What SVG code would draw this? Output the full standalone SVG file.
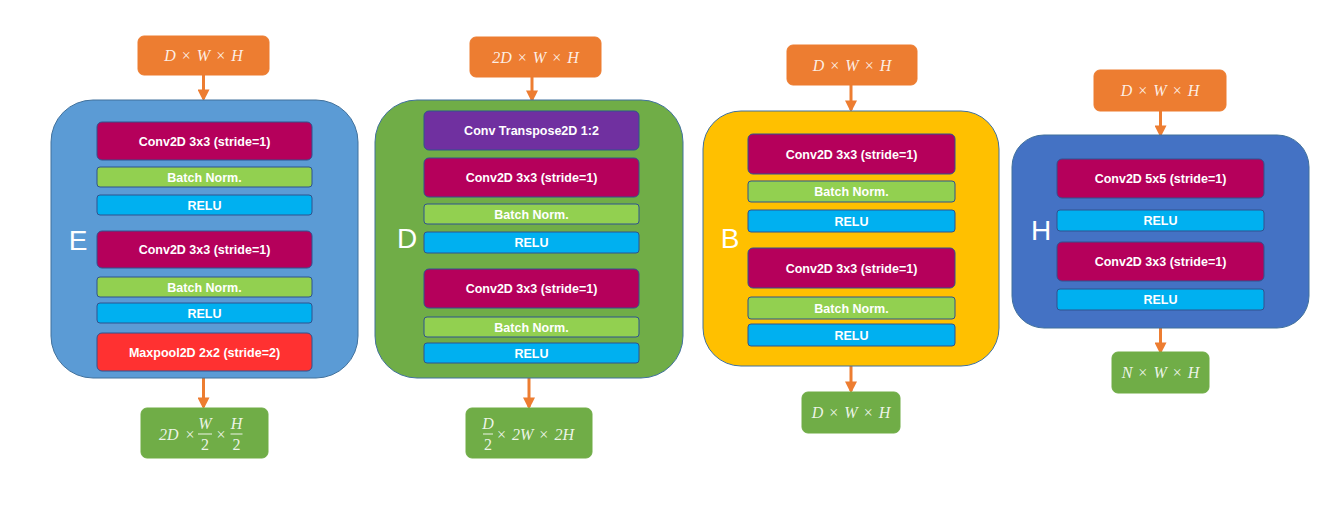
<svg xmlns="http://www.w3.org/2000/svg" width="1334" height="512" viewBox="0 0 1334 512">
<style>
.bg{fill:#ffffff}
.io-in{fill:#ED7D31;stroke:#ED7D31;stroke-width:1}
.io-out{fill:#70AD47;stroke:#70AD47;stroke-width:1}
.cont{stroke:#41719C;stroke-width:1}
.layer{stroke:#2F528F;stroke-width:1}
.conv{fill:#B5005B}
.bn{fill:#92D050}
.relu{fill:#00B0F0}
.pool{fill:#FF3131}
.tconv{fill:#7030A0}
.lt{font-family:"Liberation Sans",Arial,sans-serif;font-weight:bold;font-size:12.5px;fill:#ffffff;text-anchor:middle}
.big{font-family:"Liberation Sans",Arial,sans-serif;font-size:28px;fill:#ffffff;text-anchor:middle}
.m{font-family:"Liberation Serif","Times New Roman",serif;font-size:16px;fill:#ffffff;fill-opacity:0.88;font-style:italic;word-spacing:2px}
.up{font-style:normal}
.bar{stroke:#ffffff;stroke-opacity:0.88;stroke-width:1}
.conn{stroke:#ED7D31;stroke-width:3;fill:none}
.ah{fill:#ED7D31}
</style>
<defs>
<marker id="arr" viewBox="0 0 10 10" refX="8" refY="5" markerWidth="4" markerHeight="4" orient="auto" markerUnits="strokeWidth">
<path d="M0,0 L10,5 L0,10 z" class="ah"/>
</marker>
</defs>
<rect class="bg" x="0" y="0" width="1334" height="512"/>

<g id="connectors">
<line class="conn" x1="203.5" y1="75" x2="203.5" y2="99" marker-end="url(#arr)"/>
<line class="conn" x1="203.5" y1="378" x2="203.5" y2="407" marker-end="url(#arr)"/>
<line class="conn" x1="532" y1="77" x2="532" y2="100" marker-end="url(#arr)"/>
<line class="conn" x1="529" y1="378" x2="529" y2="407" marker-end="url(#arr)"/>
<line class="conn" x1="851" y1="85" x2="851" y2="110" marker-end="url(#arr)"/>
<line class="conn" x1="851" y1="366" x2="851" y2="391" marker-end="url(#arr)"/>
<line class="conn" x1="1160.5" y1="111" x2="1160.5" y2="135" marker-end="url(#arr)"/>
<line class="conn" x1="1160.5" y1="328" x2="1160.5" y2="352" marker-end="url(#arr)"/>
</g>

<!-- Panel E -->
<g id="E-in">
<rect class="io-in" x="138" y="36" width="131" height="39" rx="6"/>
<text class="m" x="203.5" y="61" text-anchor="middle">D <tspan class="up">×</tspan> W <tspan class="up">×</tspan> H</text>
</g>
<g id="E">
<rect class="cont" fill="#5B9BD5" x="51" y="100" width="307" height="278" rx="42"/>
<text class="big" x="78" y="250">E</text>
<rect class="layer conv" x="97" y="122" width="215" height="38" rx="5"/>
<text class="lt" x="204.5" y="145.5">Conv2D 3x3 (stride=1)</text>
<rect class="layer bn" x="97" y="167" width="215" height="20" rx="3"/>
<text class="lt" x="204.5" y="181.5">Batch Norm.</text>
<rect class="layer relu" x="97" y="195" width="215" height="20" rx="3"/>
<text class="lt" x="204.5" y="209.5">RELU</text>
<rect class="layer conv" x="97" y="231" width="215" height="37" rx="5"/>
<text class="lt" x="204.5" y="254">Conv2D 3x3 (stride=1)</text>
<rect class="layer bn" x="97" y="277" width="215" height="20" rx="3"/>
<text class="lt" x="204.5" y="291.5">Batch Norm.</text>
<rect class="layer relu" x="97" y="303" width="215" height="20" rx="3"/>
<text class="lt" x="204.5" y="317.5">RELU</text>
<rect class="layer pool" x="97" y="333" width="215" height="38" rx="5"/>
<text class="lt" x="204.5" y="356.5">Maxpool2D 2x2 (stride=2)</text>
</g>
<g id="E-out">
<rect class="io-out" x="141" y="408" width="127" height="50" rx="6"/>
<text class="m" x="159" y="439.5">2D</text>
<text class="m" x="190" y="439.5" text-anchor="middle" style="font-style:normal">×</text>
<text class="m" x="205" y="429" text-anchor="middle">W</text>
<line class="bar" x1="198" y1="434" x2="212" y2="434"/>
<text class="m" x="205" y="449.5" text-anchor="middle" style="font-style:normal">2</text>
<text class="m" x="221" y="439.5" text-anchor="middle" style="font-style:normal">×</text>
<text class="m" x="236.5" y="429" text-anchor="middle">H</text>
<line class="bar" x1="230.5" y1="434" x2="242.5" y2="434"/>
<text class="m" x="236.5" y="449.5" text-anchor="middle" style="font-style:normal">2</text>
</g>

<!-- Panel D -->
<g id="D-in">
<rect class="io-in" x="470" y="37" width="131" height="40" rx="6"/>
<text class="m" x="535.5" y="62.5" text-anchor="middle">2D <tspan class="up">×</tspan> W <tspan class="up">×</tspan> H</text>
</g>
<g id="D">
<rect class="cont" fill="#70AD47" x="375" y="100" width="308" height="278" rx="42"/>
<text class="big" x="407" y="248">D</text>
<rect class="layer tconv" x="424" y="111" width="215" height="39" rx="5"/>
<text class="lt" x="531.5" y="135">Conv Transpose2D 1:2</text>
<rect class="layer conv" x="424" y="158" width="215" height="39" rx="5"/>
<text class="lt" x="531.5" y="182">Conv2D 3x3 (stride=1)</text>
<rect class="layer bn" x="424" y="204" width="215" height="20" rx="3"/>
<text class="lt" x="531.5" y="218.5">Batch Norm.</text>
<rect class="layer relu" x="424" y="232" width="215" height="21" rx="3"/>
<text class="lt" x="531.5" y="247">RELU</text>
<rect class="layer conv" x="424" y="269" width="215" height="39" rx="5"/>
<text class="lt" x="531.5" y="293">Conv2D 3x3 (stride=1)</text>
<rect class="layer bn" x="424" y="317" width="215" height="20" rx="3"/>
<text class="lt" x="531.5" y="331.5">Batch Norm.</text>
<rect class="layer relu" x="424" y="343" width="215" height="20" rx="3"/>
<text class="lt" x="531.5" y="357.5">RELU</text>
</g>
<g id="D-out">
<rect class="io-out" x="466" y="408" width="126" height="50" rx="6"/>
<text class="m" x="488" y="429" text-anchor="middle">D</text>
<line class="bar" x1="483" y1="434" x2="493" y2="434"/>
<text class="m" x="488" y="449.5" text-anchor="middle" style="font-style:normal">2</text>
<text class="m" x="497" y="439.5"><tspan class="up">×</tspan> 2W <tspan class="up">×</tspan> 2H</text>
</g>

<!-- Panel B -->
<g id="B-in">
<rect class="io-in" x="787" y="45" width="130" height="40" rx="6"/>
<text class="m" x="852" y="70.5" text-anchor="middle">D <tspan class="up">×</tspan> W <tspan class="up">×</tspan> H</text>
</g>
<g id="B">
<rect class="cont" fill="#FFC000" x="703" y="111" width="296" height="255" rx="38"/>
<text class="big" x="730" y="248">B</text>
<rect class="layer conv" x="748" y="134" width="207" height="40" rx="5"/>
<text class="lt" x="851.5" y="158.5">Conv2D 3x3 (stride=1)</text>
<rect class="layer bn" x="748" y="181" width="207" height="21" rx="3"/>
<text class="lt" x="851.5" y="196">Batch Norm.</text>
<rect class="layer relu" x="748" y="210" width="207" height="22" rx="3"/>
<text class="lt" x="851.5" y="225.5">RELU</text>
<rect class="layer conv" x="748" y="248" width="207" height="40" rx="5"/>
<text class="lt" x="851.5" y="272.5">Conv2D 3x3 (stride=1)</text>
<rect class="layer bn" x="748" y="297" width="207" height="22" rx="3"/>
<text class="lt" x="851.5" y="312.5">Batch Norm.</text>
<rect class="layer relu" x="748" y="324" width="207" height="22" rx="3"/>
<text class="lt" x="851.5" y="339.5">RELU</text>
</g>
<g id="B-out">
<rect class="io-out" x="802" y="392" width="98" height="41" rx="6"/>
<text class="m" x="851" y="418" text-anchor="middle">D <tspan class="up">×</tspan> W <tspan class="up">×</tspan> H</text>
</g>

<!-- Panel H -->
<g id="H-in">
<rect class="io-in" x="1094" y="70" width="132" height="41" rx="6"/>
<text class="m" x="1160" y="96" text-anchor="middle">D <tspan class="up">×</tspan> W <tspan class="up">×</tspan> H</text>
</g>
<g id="H">
<rect class="cont" fill="#4472C4" x="1012" y="135" width="297" height="193" rx="32"/>
<text class="big" x="1041" y="240">H</text>
<rect class="layer conv" x="1057" y="159" width="207" height="39" rx="5"/>
<text class="lt" x="1160.5" y="183">Conv2D 5x5 (stride=1)</text>
<rect class="layer relu" x="1057" y="210" width="207" height="21" rx="3"/>
<text class="lt" x="1160.5" y="225">RELU</text>
<rect class="layer conv" x="1057" y="242" width="207" height="39" rx="5"/>
<text class="lt" x="1160.5" y="266">Conv2D 3x3 (stride=1)</text>
<rect class="layer relu" x="1057" y="289" width="207" height="21" rx="3"/>
<text class="lt" x="1160.5" y="304">RELU</text>
</g>
<g id="H-out">
<rect class="io-out" x="1112" y="352" width="97" height="41" rx="6"/>
<text class="m" x="1160.5" y="378" text-anchor="middle">N <tspan class="up">×</tspan> W <tspan class="up">×</tspan> H</text>
</g>
</svg>
